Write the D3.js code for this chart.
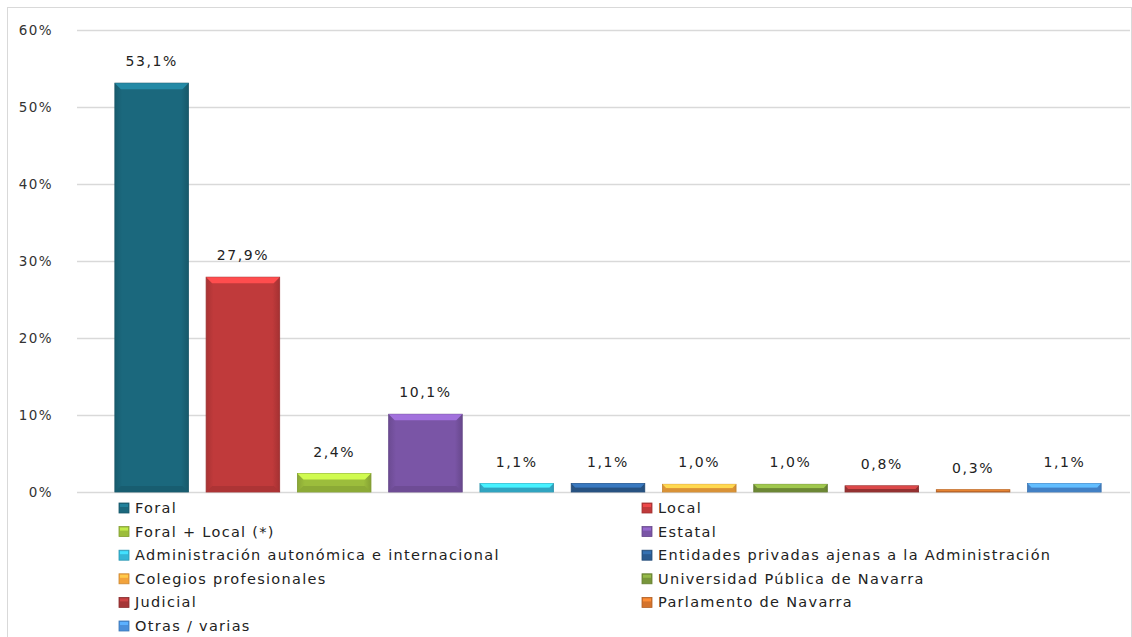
<!DOCTYPE html>
<html>
<head>
<meta charset="utf-8">
<script src="https://cdn.jsdelivr.net/npm/d3@7"></script>
<style>
  html, body { margin: 0; padding: 0; background: #fff; }
  svg { display: block; font-family: "DejaVu Sans", Verdana, sans-serif; }
</style>
</head>
<body>
<svg id="chart" width="1132" height="637"></svg>
<script>
const categories = [
  "Foral", "Local", "Foral + Local (*)", "Estatal",
  "Administración autonómica e internacional",
  "Entidades privadas ajenas a la Administración",
  "Colegios profesionales", "Universidad Pública de Navarra",
  "Judicial", "Parlamento de Navarra", "Otras / varias"
];
const values = [53.1, 27.9, 2.4, 10.1, 1.1, 1.1, 1.0, 1.0, 0.8, 0.3, 1.1];
const colors = [
  "#1b687d", "#c03a3b", "#9cbd3c", "#7a55a6", "#35b6d6", "#2b5b90",
  "#f2a33c", "#78963b", "#a53637", "#d4732c", "#4a8fda"
];
const yTicks = [0, 10, 20, 30, 40, 50, 60];

const svg = d3.select("#chart");
const W = 1132, H = 637;

// chart border
svg.append("rect").attr("x", 7.5).attr("y", 7.5).attr("width", W - 8).attr("height", H + 10)
  .attr("fill", "none").attr("stroke", "#d9d9d9").attr("stroke-width", 1);

const y = d3.scaleLinear().domain([0, 60]).range([492, 30]);
const x = d3.scaleBand().domain(categories).range([106, 1110]).paddingInner(0.194).paddingOuter(0.097);

const loc = d3.formatLocale({decimal: ",", thousands: ".", grouping: [3], currency: ["", "€"]});
const fmt = loc.format(".1f");

// gridlines
const yAxis = d3.axisLeft(y).tickValues(yTicks).tickSize(-(1130 - 77)).tickFormat(d => d + "%").tickPadding(24);
const gy = svg.append("g").attr("transform", "translate(77,0)").call(yAxis);
gy.select(".domain").remove();
gy.selectAll(".tick line").attr("stroke", "#d9d9d9").attr("stroke-width", 1.5);
gy.selectAll(".tick text").attr("fill", "#333").attr("font-size", 13.5)
  .attr("font-family", "DejaVu Sans, sans-serif").style("letter-spacing", "1.4px");

// gradients
const defs = svg.append("defs");
colors.forEach((c, i) => {
  const g = defs.append("linearGradient").attr("id", "g" + i).attr("x1", 0).attr("x2", 1).attr("y1", 0).attr("y2", 0);
  const base = d3.color(c);
  g.append("stop").attr("offset", "0%").attr("stop-color", base.darker(0.35));
  g.append("stop").attr("offset", "10%").attr("stop-color", base);
  g.append("stop").attr("offset", "90%").attr("stop-color", base);
  g.append("stop").attr("offset", "100%").attr("stop-color", base.darker(0.45));
});

const bars = svg.append("g").selectAll("g").data(values).join("g");
bars.each(function(v, i) {
  const g = d3.select(this);
  const x0 = x(categories[i]), bw = x.bandwidth();
  const yt = y(v), yb = y(0);
  const h = yb - yt;
  const base = d3.color(colors[i]);
  g.append("rect").attr("x", x0).attr("y", yt).attr("width", bw).attr("height", h)
    .attr("fill", `url(#g${i})`).attr("stroke", base.darker(0.6)).attr("stroke-width", 0.8);
  const b = Math.min(6, h / 2);
  // top bevel
  g.append("path").attr("d", `M${x0},${yt} L${x0 + bw},${yt} L${x0 + bw - b},${yt + b} L${x0 + b},${yt + b} Z`)
    .attr("fill", base.brighter(0.8));
  // bottom bevel
  g.append("path").attr("d", `M${x0},${yb} L${x0 + bw},${yb} L${x0 + bw - b},${yb - b} L${x0 + b},${yb - b} Z`)
    .attr("fill", base.darker(0.3));
  // value label
  g.append("text").attr("x", x0 + bw / 2).attr("y", yt - 17).attr("text-anchor", "middle")
    .attr("font-size", 14).attr("fill", "#222").style("letter-spacing", "1.6px")
    .text(fmt(v) + "%");
});

// legend
const legend = svg.append("g");
const colX = [119, 642];
categories.forEach((c, i) => {
  const col = i % 2, row = Math.floor(i / 2);
  const cy = 508 + row * 23.6;
  const g = legend.append("g").attr("transform", `translate(${colX[col]},${cy})`);
  const base = d3.color(colors[i]);
  g.append("rect").attr("x", 0).attr("y", -5).attr("width", 10).attr("height", 10)
    .attr("fill", base).attr("stroke", base.darker(0.5)).attr("stroke-width", 0.8);
  g.append("rect").attr("x", 1).attr("y", -4).attr("width", 8).attr("height", 3).attr("fill", base.brighter(0.6));
  g.append("text").attr("x", 16).attr("y", 5).attr("font-size", 14.5).attr("fill", "#222")
    .style("letter-spacing", "1.3px").text(c);
});
</script>
</body>
</html>
